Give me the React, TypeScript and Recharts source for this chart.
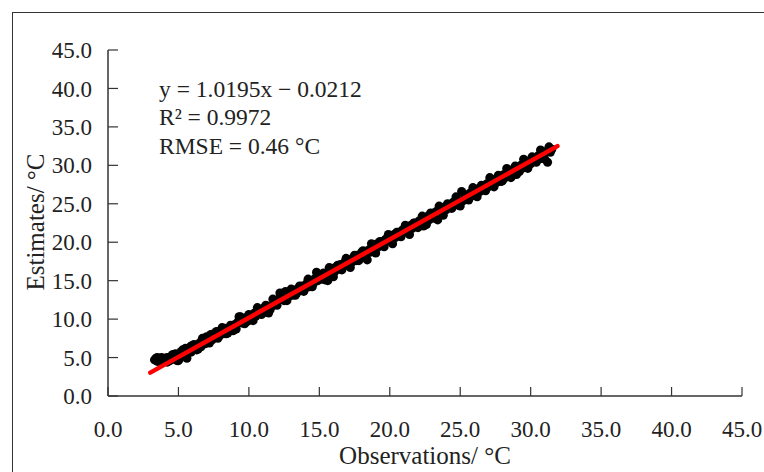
import { ScatterChart, Scatter, XAxis, YAxis, ZAxis } from 'recharts';

// observed vs estimated temperature (°C)
const obsX = [
  3.3, 3.4, 3.5, 3.6, 3.7, 3.8, 3.9, 4.0, 4.1, 4.2, 4.3, 4.4, 4.5, 4.6, 4.7, 4.8, 4.9, 5.0, 5.1, 5.2,
  5.3, 5.4, 5.5, 5.6, 5.7, 5.8, 5.9, 6.0, 6.2, 6.3, 6.5, 6.6, 6.8, 6.9, 7.0, 7.1, 7.3, 7.4, 7.6, 7.7,
  7.9, 8.0, 8.2, 8.3, 8.5, 8.6, 8.8, 8.9, 9.0, 9.2, 9.3, 9.5, 9.6, 9.8, 9.9, 10.1, 10.2, 10.4, 10.5, 10.7,
  10.8, 11.0, 11.1, 11.3, 11.4, 11.6, 11.8, 11.9, 12.1, 12.2, 12.4, 12.5, 12.6, 12.8, 12.9, 13.1, 13.2, 13.4, 13.5, 13.7,
  13.8, 14.0, 14.1, 14.3, 14.4, 14.6, 14.7, 14.8, 14.9, 15.0, 15.2, 15.3, 15.5, 15.6, 15.8, 15.9, 16.1, 16.2, 16.4, 16.5,
  16.7, 16.8, 17.0, 17.1, 17.3, 17.4, 17.6, 17.7, 17.9, 18.0, 18.2, 18.4, 18.5, 18.6, 18.8, 18.9, 19.1, 19.2, 19.4, 19.5,
  19.7, 19.8, 20.0, 20.1, 20.3, 20.4, 20.6, 20.7, 20.9, 21.0, 21.2, 21.3, 21.5, 21.6, 21.8, 21.9, 22.1, 22.2, 22.4, 22.5,
  22.7, 22.8, 23.0, 23.1, 23.3, 23.4, 23.6, 23.7, 23.9, 24.0, 24.2, 24.3, 24.5, 24.6, 24.8, 24.9, 25.1, 25.2, 25.4, 25.5,
  25.7, 25.8, 26.0, 26.1, 26.3, 26.4, 26.6, 26.7, 26.9, 27.0, 27.2, 27.3, 27.5, 27.6, 27.8, 27.9, 28.1, 28.2, 28.4, 28.5,
  28.7, 28.8, 29.0, 29.1, 29.3, 29.4, 29.6, 29.7, 29.9, 30.0, 30.2, 30.3, 30.5, 30.6, 30.8, 30.9, 31.1, 31.2, 31.3, 31.4,
  31.5,
  3.5, 3.8, 4.2, 4.6, 5.0, 5.3, 5.6, 5.9,
  6.1, 6.4, 6.7, 7.2, 7.5, 7.8, 8.1, 8.4, 8.7, 9.1, 9.4, 9.7, 10.0, 10.3, 10.6, 10.9, 11.2, 11.5, 11.7, 12.0,
  12.3, 12.7, 13.0, 13.3, 13.6, 13.9, 14.2, 14.5, 15.1, 15.4, 15.7, 16.0, 16.3, 16.6, 16.9, 17.2, 17.5, 17.8,
  18.1, 18.3, 18.7, 19.0, 19.3, 19.6, 19.9, 20.2, 20.5, 20.8, 21.1, 21.4, 21.7, 22.0, 22.3, 22.6, 22.9, 23.2,
  23.5, 23.8, 24.1, 24.4, 24.7, 25.0, 25.3, 25.6, 25.9, 26.2, 26.5, 26.8, 27.1, 27.4, 27.7, 28.0, 28.3, 28.6,
  28.9, 29.2, 29.5, 29.8, 30.1, 30.4, 30.7, 31.0,
];

const estY = [
  4.7, 4.9, 4.5, 4.8, 4.6, 5.0, 4.7, 4.9, 4.5, 5.0, 4.8, 4.6, 5.2, 4.8, 5.1, 5.5, 4.6, 5.3, 4.9, 5.8,
  5.2, 5.6, 6.2, 5.4, 5.9, 6.3, 5.7, 6.4, 6.6, 6.0, 6.9, 6.4, 7.1, 6.8, 7.7, 7.0, 8.0, 7.3, 7.8, 8.4,
  7.8, 8.5, 8.1, 8.8, 8.2, 8.9, 8.5, 8.5, 9.3, 9.6, 10.3, 9.5, 10.0, 10.2, 9.7, 10.4, 10.0, 10.8, 10.4, 11.1,
  10.7, 11.4, 10.9, 11.7, 10.8, 11.6, 12.3, 11.9, 12.6, 13.4, 12.9, 12.4, 13.6, 12.9, 13.4, 13.1, 13.8, 13.4, 14.0, 13.7,
  14.3, 14.0, 14.6, 14.2, 15.0, 14.7, 15.3, 16.1, 15.0, 15.6, 15.2, 16.0, 15.5, 15.0, 16.0, 16.6, 16.2, 16.8, 16.5, 17.1,
  16.8, 17.4, 17.1, 17.7, 17.4, 18.0, 17.6, 18.3, 18.0, 18.7, 18.4, 17.7, 19.0, 18.7, 19.4, 19.1, 19.8, 19.4, 20.1, 19.7,
  20.4, 20.1, 20.8, 20.3, 21.0, 20.6, 21.3, 20.9, 21.6, 21.3, 21.9, 21.5, 22.2, 21.8, 22.5, 22.1, 22.8, 22.4, 22.1, 23.1,
  23.4, 22.9, 23.7, 23.3, 24.0, 22.9, 24.3, 23.9, 24.6, 24.2, 24.9, 24.5, 25.2, 24.8, 25.5, 25.1, 26.6, 25.4, 26.1, 25.7,
  26.4, 26.0, 26.7, 26.3, 27.0, 26.6, 27.3, 26.9, 27.6, 27.2, 27.9, 27.5, 28.2, 27.8, 28.5, 27.9, 28.8, 28.4, 29.1, 28.8,
  29.4, 29.0, 28.8, 29.7, 30.0, 29.6, 30.3, 29.9, 30.6, 30.2, 30.9, 30.5, 31.2, 30.8, 31.5, 31.1, 31.8, 30.4, 32.4, 31.7,
  32.1,
  5.0, 4.4, 4.4, 5.4, 4.6, 6.0, 4.9, 6.5,
  6.7, 6.1, 7.5, 6.9, 8.1, 7.5, 8.9, 8.1, 9.2, 8.7, 10.3, 9.4, 10.6, 9.8, 11.5, 10.6, 11.8, 11.2, 12.6, 11.8,
  13.1, 12.4, 13.9, 13.1, 14.3, 13.6, 15.2, 14.2, 15.8, 15.1, 16.7, 15.5, 17.0, 16.4, 17.9, 16.7, 18.3, 17.6,
  18.9, 18.2, 19.8, 18.6, 20.1, 19.4, 21.0, 19.8, 21.3, 20.7, 22.2, 21.0, 22.5, 21.9, 23.4, 22.3, 23.8, 23.1,
  24.7, 23.5, 25.0, 24.4, 25.9, 24.7, 26.2, 25.5, 27.1, 25.9, 27.4, 26.7, 28.4, 27.2, 28.7, 28.0, 29.6, 28.4,
  29.9, 29.2, 30.8, 29.6, 31.1, 30.4, 32.0, 30.8,
];

// regression line end points (y = 1.0195x - 0.0212)
const fitX = [3.0, 31.9];
const fitY = [3.04, 32.5];

const axisTicks = [0, 5, 10, 15, 20, 25, 30, 35, 40, 45];

const points = obsX.map((x, i) => ({ x, y: estY[i] }));
const fitLine = fitX.map((x, i) => ({ x, y: fitY[i] }));

const FONT = '"Liberation Serif", "Times New Roman", serif';
const INK = '#222';

const App = () => {
  return (
    <div style={{
      position: 'fixed',
      left: 0,
      top: 0,
      width: 764,
      height: 472,
      overflow: 'hidden',
      backgroundColor: '#fff',
      fontFamily: FONT,
      color: INK,
    }}>
      <div style={{
        position: 'absolute',
        left: 12,
        top: 12,
        width: 800,
        height: 500,
        borderLeft: '1.5px solid #333',
        borderTop: '1.5px solid #333',
      }} />

      <ScatterChart
        width={764}
        height={472}
        margin={{ top: 50, right: 22, bottom: 26, left: 0 }}
        style={{ position: 'absolute', left: 0, top: 0 }}
      >
        <XAxis
          type="number"
          dataKey="x"
          domain={[0, 45]}
          ticks={axisTicks}
          allowDataOverflow
          height={50}
          tickFormatter={(v: number) => v.toFixed(1)}
          tick={{ fill: INK, fontSize: 23, fontFamily: FONT }}
          tickSize={-9}
          tickMargin={34}
          axisLine={{ stroke: '#333', strokeWidth: 1.5 }}
          tickLine={{ stroke: '#333', strokeWidth: 1.2 }}
        />
        <YAxis
          type="number"
          dataKey="y"
          domain={[0, 45]}
          ticks={axisTicks}
          allowDataOverflow
          width={108}
          tickFormatter={(v: number) => v.toFixed(1)}
          tick={{ fill: INK, fontSize: 23, fontFamily: FONT }}
          tickSize={-10}
          tickMargin={26}
          axisLine={{ stroke: '#333', strokeWidth: 1.5 }}
          tickLine={{ stroke: '#333', strokeWidth: 1.2 }}
        />
        <ZAxis range={[60, 60]} />
        <Scatter data={points} fill="#000" isAnimationActive={false} />
        <Scatter
          data={fitLine}
          line={{ stroke: '#ff0000', strokeWidth: 4.5, strokeLinecap: 'round' }}
          shape={() => <g />}
          isAnimationActive={false}
        />
      </ScatterChart>

      <div style={{
        position: 'absolute',
        left: 159,
        top: 75,
        fontSize: 23.5,
        lineHeight: '28.3px',
        whiteSpace: 'nowrap',
      }}>
        <div>y = 1.0195x − 0.0212</div>
        <div>R² = 0.9972</div>
        <div>RMSE = 0.46 °C</div>
      </div>

      <div style={{
        position: 'absolute',
        left: 425,
        top: 443,
        transform: 'translateX(-50%)',
        fontSize: 25,
        lineHeight: 1,
        whiteSpace: 'nowrap',
      }}>
        Observations/ °C
      </div>

      <div style={{
        position: 'absolute',
        left: 35,
        top: 222,
        transform: 'translate(-50%, -50%) rotate(-90deg)',
        fontSize: 25,
        lineHeight: 1,
        whiteSpace: 'nowrap',
      }}>
        Estimates/ °C
      </div>
    </div>
  );
};

export default App;
